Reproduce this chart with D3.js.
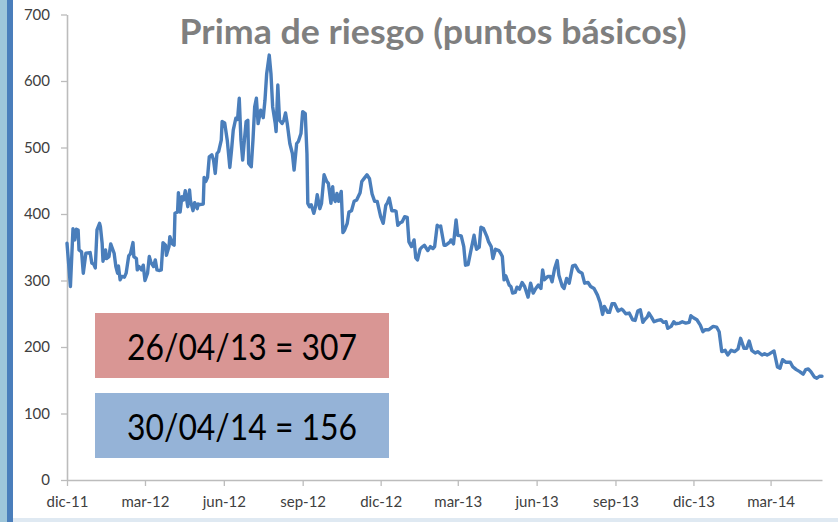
<!DOCTYPE html>
<html><head><meta charset="utf-8">
<script src="https://cdn.jsdelivr.net/npm/d3@7"></script>
<style>html,body{margin:0;padding:0;background:#fff;overflow:hidden}</style>
</head><body><svg id="chart" width="838" height="522"></svg>
<script>
// ---------- data ----------
const title = "Prima de riesgo (puntos básicos)";

const dates = [
"2011-12-01","2011-12-05","2011-12-08","2011-12-10","2011-12-12","2011-12-14","2011-12-15","2011-12-18","2011-12-20","2011-12-23","2011-12-28","2011-12-30",
"2012-01-01","2012-01-03","2012-01-05","2012-01-08","2012-01-09","2012-01-11","2012-01-12","2012-01-15","2012-01-16","2012-01-19","2012-01-21","2012-01-23","2012-01-25","2012-01-27","2012-01-29","2012-01-30",
"2012-02-01","2012-02-03","2012-02-06","2012-02-08","2012-02-11","2012-02-13","2012-02-16","2012-02-17","2012-02-20","2012-02-21","2012-02-23","2012-02-26","2012-02-28",
"2012-03-01","2012-03-04","2012-03-06","2012-03-08","2012-03-11","2012-03-13","2012-03-15","2012-03-18","2012-03-20","2012-03-22","2012-03-25","2012-03-26","2012-03-29","2012-03-30",
"2012-04-02","2012-04-04","2012-04-05","2012-04-08","2012-04-09","2012-04-11","2012-04-13","2012-04-15","2012-04-17","2012-04-20","2012-04-22","2012-04-23","2012-04-26","2012-04-28",
"2012-05-01","2012-05-02","2012-05-04","2012-05-08","2012-05-09","2012-05-11","2012-05-13","2012-05-15","2012-05-18","2012-05-20","2012-05-22","2012-05-24","2012-05-26","2012-05-29","2012-05-30",
"2012-06-02","2012-06-05","2012-06-08","2012-06-10","2012-06-12","2012-06-15","2012-06-17","2012-06-19","2012-06-21","2012-06-23","2012-06-25","2012-06-27","2012-06-29","2012-06-30",
"2012-07-03","2012-07-05","2012-07-07","2012-07-09","2012-07-11","2012-07-14","2012-07-17","2012-07-19","2012-07-21","2012-07-24","2012-07-26","2012-07-28","2012-07-31",
"2012-08-01","2012-08-03","2012-08-05","2012-08-08","2012-08-10","2012-08-12","2012-08-14","2012-08-17","2012-08-20","2012-08-22","2012-08-25","2012-08-27","2012-08-30",
"2012-09-01","2012-09-04","2012-09-06","2012-09-07","2012-09-09","2012-09-11","2012-09-14","2012-09-16","2012-09-18","2012-09-21","2012-09-23","2012-09-26","2012-09-29",
"2012-10-01","2012-10-02","2012-10-04","2012-10-06","2012-10-07","2012-10-09","2012-10-11","2012-10-13","2012-10-16","2012-10-18","2012-10-20","2012-10-23","2012-10-25","2012-10-28","2012-10-31",
"2012-11-03","2012-11-07","2012-11-09","2012-11-12","2012-11-15","2012-11-18","2012-11-21","2012-11-24","2012-11-27",
"2012-12-01","2012-12-04","2012-12-07","2012-12-09","2012-12-11","2012-12-14","2012-12-17","2012-12-19","2012-12-21","2012-12-24","2012-12-26","2012-12-29",
"2013-01-01","2013-01-03","2013-01-06","2013-01-09","2013-01-11","2013-01-13","2013-01-16","2013-01-18","2013-01-21","2013-01-25","2013-01-28","2013-01-31",
"2013-02-02","2013-02-05","2013-02-07","2013-02-09","2013-02-13","2013-02-15","2013-02-17","2013-02-20","2013-02-21","2013-02-24","2013-02-27",
"2013-03-01","2013-03-05","2013-03-08","2013-03-10","2013-03-13","2013-03-16","2013-03-20","2013-03-22","2013-03-23","2013-03-26","2013-03-28","2013-03-31",
"2013-04-04","2013-04-06","2013-04-09","2013-04-11","2013-04-14","2013-04-18","2013-04-20","2013-04-22","2013-04-24","2013-04-26","2013-04-30",
"2013-05-02","2013-05-04","2013-05-07","2013-05-09","2013-05-12","2013-05-15","2013-05-18","2013-05-22","2013-05-25","2013-05-28","2013-05-31",
"2013-06-03","2013-06-06","2013-06-08","2013-06-10","2013-06-14","2013-06-17","2013-06-19","2013-06-22","2013-06-25","2013-06-27",
"2013-07-01","2013-07-03","2013-07-06","2013-07-09","2013-07-13","2013-07-16","2013-07-20","2013-07-24","2013-07-27","2013-07-31",
"2013-08-03","2013-08-07","2013-08-11","2013-08-14","2013-08-17","2013-08-19","2013-08-23","2013-08-25","2013-08-28","2013-08-31",
"2013-09-04","2013-09-08","2013-09-10","2013-09-13","2013-09-17","2013-09-21","2013-09-24","2013-09-27","2013-09-30",
"2013-10-03","2013-10-05","2013-10-08","2013-10-10","2013-10-13","2013-10-16","2013-10-20","2013-10-24","2013-10-27","2013-10-30",
"2013-11-01","2013-11-05","2013-11-08","2013-11-10","2013-11-15","2013-11-18","2013-11-22","2013-11-26","2013-11-28",
"2013-12-01","2013-12-05","2013-12-09","2013-12-12","2013-12-15","2013-12-19","2013-12-24","2013-12-28","2013-12-31",
"2014-01-03","2014-01-07","2014-01-10","2014-01-14","2014-01-18","2014-01-22","2014-01-25","2014-01-29",
"2014-02-01","2014-02-04","2014-02-07","2014-02-11","2014-02-14","2014-02-19","2014-02-22","2014-02-25","2014-02-28",
"2014-03-05","2014-03-09","2014-03-12","2014-03-15","2014-03-19","2014-03-24","2014-03-27","2014-03-31",
"2014-04-04","2014-04-08","2014-04-11","2014-04-14","2014-04-17","2014-04-21","2014-04-24","2014-04-27","2014-04-30"
];

const values = [
356,291,378,361,377,376,346,343,311,341,342,326,
325,319,376,386,381,356,329,346,333,336,355,348,341,321,311,322,
301,306,305,311,337,340,357,336,333,316,321,316,323,
300,311,336,327,321,331,316,315,316,357,353,338,351,366,
355,353,401,403,432,403,426,421,435,411,436,421,405,417,
408,415,414,415,455,449,455,486,489,481,461,491,494,511,539,
537,511,470,496,526,544,542,574,511,481,511,539,541,476,
471,511,561,574,536,556,545,571,611,639,611,561,536,
524,594,541,536,541,552,536,506,491,466,506,509,521,
554,551,491,416,411,414,401,411,429,408,416,459,449,
446,436,416,441,425,419,431,419,434,372,376,386,403,405,419,
421,432,449,454,459,453,430,419,419,
396,386,413,417,424,405,405,404,383,387,388,396,
395,358,351,361,334,331,347,350,353,345,351,348,
351,383,381,382,353,353,355,358,361,355,391,
368,367,351,323,324,343,368,352,347,350,380,378,
366,358,351,333,347,345,341,336,301,307,293,
291,281,282,290,287,297,291,275,296,281,288,
293,288,316,301,306,306,298,318,330,308,
291,288,303,296,322,323,314,311,296,297,
291,288,278,267,249,261,252,252,265,265,
254,257,255,250,251,241,240,254,256,
237,241,245,251,245,238,240,241,237,238,
228,231,238,235,236,238,236,237,247,
244,241,233,223,226,226,231,230,223,
193,195,188,195,193,197,213,198,
198,209,195,191,193,188,190,188,190,
194,170,168,181,177,177,170,166,
163,159,166,167,163,155,153,156,156
];

const xDomain = ["2011-12-01","2014-04-30"];
const xTickDates = ["2011-12-01","2012-03-01","2012-06-01","2012-09-01","2012-12-01","2013-03-01","2013-06-01","2013-09-01","2013-12-01","2014-03-01"];
const xTickLabels = ["dic-11","mar-12","jun-12","sep-12","dic-12","mar-13","jun-13","sep-13","dic-13","mar-14"];
const yTicks = [0,100,200,300,400,500,600,700];
const notes = ["26/04/13 = 307","30/04/14 = 156"];
const noteColors = ["#d99694","#95b3d7"];

// ---------- drawing ----------
const parse = d3.timeParse("%Y-%m-%d");
const series = dates.map((d,i)=>({date:parse(d), v:values[i]}));
if (dates.length !== values.length) console.error("length mismatch", dates.length, values.length);

const svg = d3.select("#chart");
const FONT = "Lato, 'Open Sans', 'DejaVu Sans', sans-serif";

svg.append("rect").attr("x",0).attr("y",0).attr("width",838).attr("height",522).attr("fill","#ffffff");
// side decoration
svg.append("rect").attr("x",0).attr("y",0).attr("width",7).attr("height",522).attr("fill","#9ec6da");
svg.append("rect").attr("x",7).attr("y",0).attr("width",6).attr("height",522).attr("fill","#4a7ebb");
svg.append("rect").attr("x",13).attr("y",518).attr("width",825).attr("height",4).attr("fill","#dfe9f2");

const x = d3.scaleTime().domain(xDomain.map(parse)).range([67, 822]);
const y = d3.scaleLinear().domain([0, 700]).range([480, 14.5]);

const axisColor = "#bcbcbc";

// y axis
const gy = svg.append("g").attr("transform","translate(67,0)")
  .call(d3.axisLeft(y).tickValues(yTicks).tickSize(6).tickSizeOuter(0).tickPadding(11).tickFormat(d3.format("d")));
gy.select(".domain").attr("stroke",axisColor).attr("stroke-width",1.6);
gy.selectAll(".tick line").attr("stroke",axisColor).attr("stroke-width",1.3);
gy.selectAll(".tick text").attr("font-family",FONT).attr("font-size",15).attr("fill","#404040");

// x axis
const gx = svg.append("g").attr("transform","translate(0,480)")
  .call(d3.axisBottom(x).tickValues(xTickDates.map(parse)).tickSize(6).tickSizeOuter(0)
        .tickFormat((d,i)=>xTickLabels[i]));
gx.select(".domain").attr("stroke",axisColor).attr("stroke-width",1.6);
gx.selectAll(".tick line").attr("stroke",axisColor).attr("stroke-width",1.3);
gx.selectAll(".tick text").attr("font-family",FONT).attr("font-size",15).attr("fill","#404040")
  .attr("y",16).attr("dy","0.71em");

// line
const line = d3.line().x(d=>x(d.date)).y(d=>y(d.v));
svg.append("path").datum(series).attr("d",line)
  .attr("fill","none").attr("stroke","#4a7ebb").attr("stroke-width",3.4)
  .attr("stroke-linejoin","round").attr("stroke-linecap","round");

// title
svg.append("text").attr("x",433).attr("y",44).attr("text-anchor","middle")
  .attr("font-family",FONT).attr("font-weight","bold").attr("font-size",34)
  .attr("fill","#7f7f7f").attr("textLength",507).attr("lengthAdjust","spacingAndGlyphs")
  .text(title);

// annotation boxes
const boxTop = [313, 393];
notes.forEach((t,i)=>{
  svg.append("rect").attr("x",95).attr("y",boxTop[i]).attr("width",294).attr("height",65)
    .attr("fill",noteColors[i]);
  svg.append("text").attr("x",242).attr("y",boxTop[i]+47).attr("text-anchor","middle")
    .attr("font-family",FONT).attr("font-size",36).attr("fill","#000")
    .attr("textLength",230).attr("lengthAdjust","spacingAndGlyphs")
    .text(t);
});
</script>
</body></html>
